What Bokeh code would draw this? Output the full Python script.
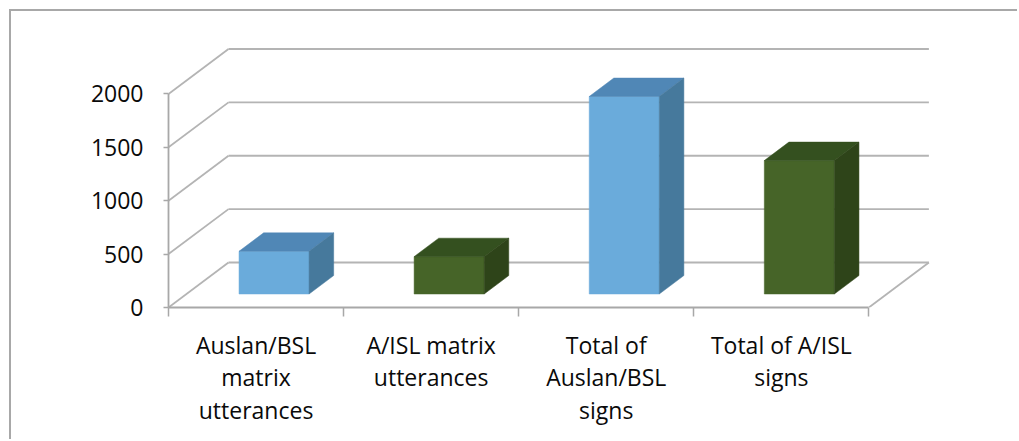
from bokeh.plotting import figure
from bokeh.models import FixedTicker, Range1d
from bokeh.embed import file_html
from bokeh.resources import INLINE

# ---- data ----
categories = ["Auslan/BSL\nmatrix\nutterances", "A/ISL matrix\nutterances",
              "Total of\nAuslan/BSL\nsigns", "Total of A/ISL\nsigns"]
values = [400, 350, 1850, 1250]
y_ticks = [0, 500, 1000, 1500, 2000]
front_colors = ["#6aabdb", "#466428", "#6aabdb", "#466428"]
top_colors = ["#5087b6", "#34501f", "#5087b6", "#34501f"]
side_colors = ["#46799c", "#2e4419", "#46799c", "#2e4419"]

# ---- 3D geometry (oblique projection, in data units) ----
DX = 0.3427    # depth shift along x (category units)
DY = 421.5     # depth shift along y (value units)
F0, F1 = 0.30, 0.71   # bar depth start/end fraction
HALF = 0.20           # half bar width
n = len(categories)

p = figure(width=1008, height=430,
           x_range=Range1d(0, 4.409), y_range=Range1d(0, 2501),
           output_backend="svg", toolbar_location=None,
           min_border_left=157, min_border_right=79,
           min_border_top=29, min_border_bottom=134,
           margin=(9, 0, 0, 9),
           styles={"border-top": "2px solid #a8a8a8",
                   "border-left": "2px solid #a8a8a8"})
p.outline_line_color = None
p.grid.visible = False
p.background_fill_color = "white"
p.border_fill_color = "white"

grid_col = "#b4b4b4"
# back wall gridlines
p.multi_line(xs=[[DX, n + DX] for v in y_ticks],
             ys=[[v + DY, v + DY] for v in y_ticks],
             line_color=grid_col, line_width=1.8)
# side wall diagonals
p.multi_line(xs=[[0, DX] for v in y_ticks],
             ys=[[v, v + DY] for v in y_ticks],
             line_color=grid_col, line_width=1.8)
# floor right edge
p.line(x=[n, n + DX], y=[0, DY], line_color=grid_col, line_width=1.8)

# ---- bars ----
d = F1 - F0
L = [i + 0.5 - HALF + F0 * DX for i in range(n)]
R = [i + 0.5 + HALF + F0 * DX for i in range(n)]
B = [F0 * DY for i in range(n)]
T = [v + F0 * DY for v in values]

p.quad(left=L, right=R, bottom=B, top=T, fill_color=front_colors,
       line_color=front_colors, line_width=0.5)
top_xs = [[L[i], R[i], R[i] + d * DX, L[i] + d * DX] for i in range(n)]
top_ys = [[T[i], T[i], T[i] + d * DY, T[i] + d * DY] for i in range(n)]
p.patches(top_xs, top_ys, fill_color=top_colors, line_color=top_colors, line_width=0.5)
side_xs = [[R[i], R[i] + d * DX, R[i] + d * DX, R[i]] for i in range(n)]
side_ys = [[B[i], B[i] + d * DY, T[i] + d * DY, T[i]] for i in range(n)]
p.patches(side_xs, side_ys, fill_color=side_colors, line_color=side_colors, line_width=0.5)

# ---- axes ----
axis_col = "#a8a8a8"
font = "Open Sans"
yax = p.yaxis[0]
yax.ticker = FixedTicker(ticks=y_ticks, minor_ticks=[])
yax.bounds = (0, 2000)
yax.axis_line_color = axis_col
yax.axis_line_width = 1.8
yax.major_tick_line_color = axis_col
yax.major_tick_line_width = 1.5
yax.major_tick_out = 5
yax.major_tick_in = 0
yax.minor_tick_line_color = None
yax.major_label_standoff = 20
yax.major_label_text_font = font
yax.major_label_text_font_size = "23px"
yax.major_label_text_color = "#0a0a0a"

xax = p.xaxis[0]
xax.ticker = FixedTicker(ticks=[i + 0.5 for i in range(n)],
                         minor_ticks=list(range(n + 1)))
xax.bounds = (0, n)
xax.major_label_overrides = {i + 0.5: categories[i] for i in range(n)}
xax.axis_line_color = axis_col
xax.axis_line_width = 1.8
xax.major_tick_line_color = None
xax.major_tick_out = 0
xax.major_tick_in = 0
xax.minor_tick_line_color = axis_col
xax.minor_tick_line_width = 1.5
xax.minor_tick_out = 9
xax.minor_tick_in = 0
xax.major_label_standoff = 12
xax.major_label_text_font = font
xax.major_label_text_font_size = "23px"
xax.major_label_text_line_height = 1.03
xax.major_label_text_color = "#0a0a0a"
xax.major_label_text_align = "center"

open("out.html", "w").write(file_html(p, INLINE))
